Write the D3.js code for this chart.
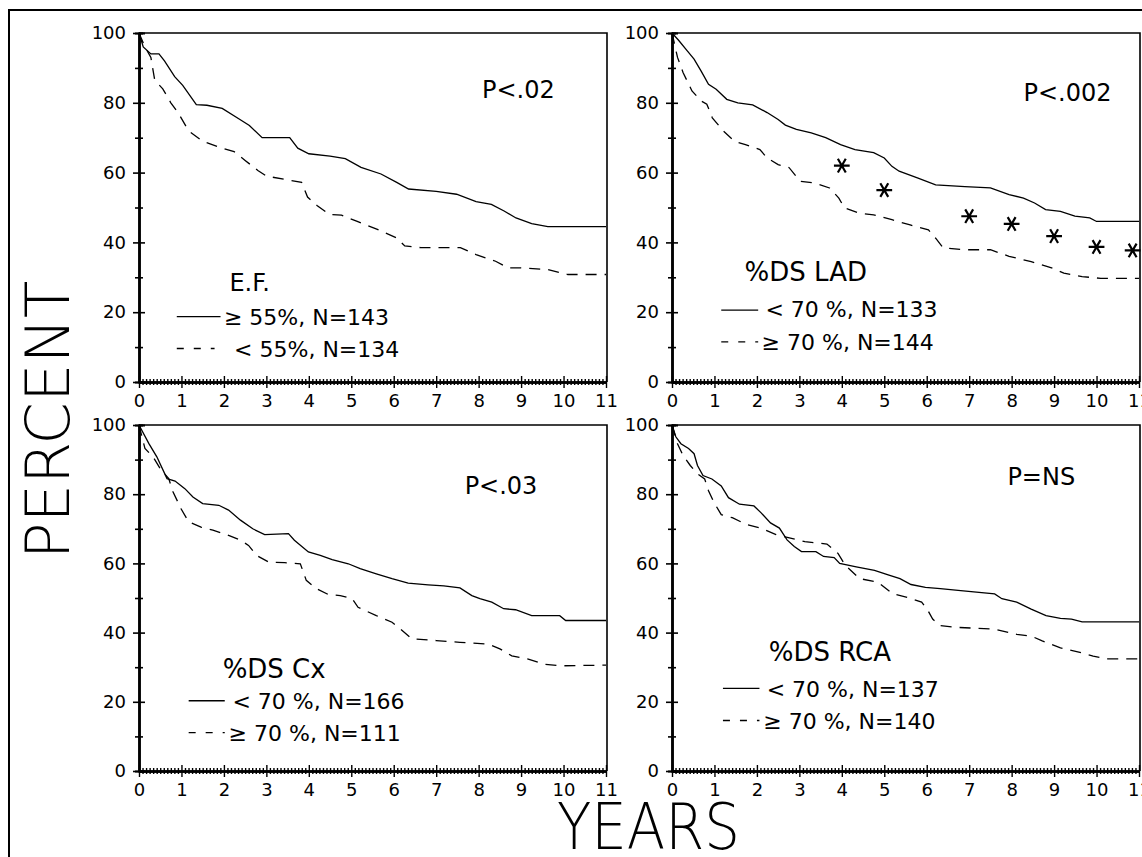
<!DOCTYPE html>
<html>
<head>
<meta charset="utf-8">
<script src="https://cdn.jsdelivr.net/npm/d3@7"></script>
<style>
body{margin:0;background:#fff;}
text{font-family:"DejaVu Sans",sans-serif;fill:#000;}
.axis text{font-size:18px;}
.axis line,.axis path{stroke:#000;}
</style>
</head>
<body>
<div id="chart"></div>
<script>
// survival curves: [years, percent]
var ef_high=[[0,100],[0.1,96],[0.28,94],[0.47,94],[0.6,92],[0.84,87.5],[1.03,85],[1.35,79.5],[1.6,79.3],[1.96,78.4],[2.34,75.5],[2.6,73.5],[2.9,70],[3.18,70],[3.55,70],[3.74,67],[4.0,65.4],[4.5,64.7],[4.86,64],[5.23,61.5],[5.7,59.6],[6.07,57.2],[6.35,55.3],[7.0,54.6],[7.48,53.8],[7.94,51.7],[8.3,50.9],[8.6,49],[8.88,47],[9.25,45.4],[9.63,44.5],[11,44.5]];
var ef_low=[[0,100],[0.14,96],[0.28,93],[0.37,86.5],[0.56,84],[0.75,80],[0.93,77],[1.12,73],[1.21,71.6],[1.5,69],[1.96,67],[2.24,66],[2.5,63.5],[2.8,60.6],[3.0,59],[3.46,58],[3.83,57.2],[3.97,53],[4.2,50.5],[4.49,48],[4.77,47.8],[5.14,46],[5.6,43.8],[6.07,41.3],[6.26,39],[6.64,38.5],[7.57,38.5],[7.94,36.5],[8.4,34.6],[8.69,32.7],[8.97,32.7],[9.63,32.2],[10.1,30.8],[11,30.8]];

var lad_low=[[0,100],[0.15,98],[0.35,95],[0.52,92.5],[0.69,89],[0.86,85.3],[1.04,83.9],[1.29,81],[1.55,80],[1.9,79.4],[2.24,77.2],[2.5,75.2],[2.67,73.6],[2.93,72.4],[3.28,71.4],[3.62,70],[3.97,68],[4.31,66.6],[4.75,65.7],[5.0,64.2],[5.18,61.8],[5.35,60.4],[5.78,58.5],[6.21,56.5],[6.9,56],[7.5,55.6],[7.94,53.7],[8.28,52.7],[8.54,51.3],[8.8,49.4],[9.15,48.9],[9.49,47.5],[9.84,47],[10.0,46],[11,46]];
var lad_high=[[0,100],[0.13,93],[0.26,88.7],[0.47,83.4],[0.69,80.5],[0.82,79.6],[0.95,75.7],[1.21,71.9],[1.47,69],[1.73,68],[2.07,66.6],[2.24,64.2],[2.5,62.3],[2.76,61.4],[3.02,57.5],[3.36,57],[3.71,55.6],[3.93,52.7],[4.06,49.9],[4.4,48.4],[4.75,47.9],[5.18,46.5],[5.61,45],[6.04,43.6],[6.21,41.2],[6.39,38.4],[6.9,37.9],[7.5,37.9],[7.94,36],[8.46,34.5],[8.97,32.6],[9.23,31.2],[9.66,30.2],[10.1,29.7],[11,29.7]];
var lad_stars=[[4,62],[5,55],[7,47.5],[8,45.3],[9,41.8],[10,38.7],[10.85,37.7]];

var cx_low=[[0,100],[0.23,94.7],[0.42,90.8],[0.66,84.5],[0.85,83.8],[1.08,81.6],[1.27,79.2],[1.5,77.3],[1.88,76.8],[2.11,75.4],[2.39,72.5],[2.68,70],[2.96,68.3],[3.52,68.6],[3.66,66.7],[3.99,63.3],[4.27,62.3],[4.55,61.1],[4.93,59.9],[5.21,58.5],[5.59,57],[5.96,55.6],[6.34,54.3],[6.81,53.8],[7.18,53.5],[7.56,52.9],[7.84,50.7],[8.03,49.8],[8.31,48.8],[8.59,46.9],[8.87,46.6],[9.25,44.9],[9.91,44.9],[10.05,43.5],[11,43.5]];
var cx_high=[[0,100],[0.14,93.2],[0.33,90.8],[0.52,87],[0.7,84.5],[0.8,80.7],[0.99,75.8],[1.17,72],[1.46,70.5],[1.74,69.6],[2.11,68.1],[2.39,66.7],[2.58,65.2],[2.77,62.3],[3.05,60.4],[3.43,60.2],[3.8,59.9],[3.94,55.1],[4.18,52.7],[4.46,51],[4.74,50.7],[5.02,49.8],[5.16,47.3],[5.59,44.9],[5.96,43],[6.15,41.1],[6.43,38.2],[7.0,37.7],[7.56,37.2],[8.22,36.7],[8.5,35.3],[8.78,33.3],[9.15,32.4],[9.53,30.9],[9.91,30.4],[11,30.6]];

var rca_low=[[0,100],[0.09,96.6],[0.21,94.6],[0.39,93.2],[0.52,91.7],[0.6,88.3],[0.73,85.4],[0.94,84.4],[1.16,82.4],[1.33,79],[1.59,77.1],[1.93,76.6],[2.1,74.6],[2.32,71.7],[2.53,70.2],[2.71,66.8],[2.88,64.9],[3.05,63.4],[3.39,63.4],[3.57,62],[3.82,61.7],[3.95,60],[4.34,59],[4.77,58],[5.11,56.6],[5.37,55.6],[5.63,53.9],[5.97,53.1],[6.32,52.7],[6.74,52.2],[7.17,51.7],[7.6,51.2],[7.77,49.8],[8.12,48.8],[8.46,46.8],[8.81,44.9],[9.15,44.1],[9.41,43.9],[9.66,43.1],[11,43.1]];
var rca_high=[[0,100],[0.13,94.6],[0.26,91.2],[0.43,88.3],[0.6,85.9],[0.77,84.4],[0.86,81],[0.99,77.6],[1.16,74.1],[1.42,73.2],[1.76,71.2],[2.1,70.2],[2.45,68.3],[2.79,67.3],[3.13,66.3],[3.65,65.6],[3.91,62.9],[4.08,59.5],[4.42,55.6],[4.85,54.6],[5.2,51.2],[5.54,50.2],[5.88,48.8],[6.01,46.8],[6.14,43.9],[6.32,42],[6.74,41.5],[7.6,41],[8.12,39.5],[8.46,39],[8.72,37.6],[9.15,35.6],[9.66,34.1],[9.92,33.2],[10.27,32.4],[11,32.4]];

var yMajor=[0,20,40,60,80,100];
var yMinor=[10,30,50,70,90];
var xMajor=[0,1,2,3,4,5,6,7,8,9,10,11];

var pTexts=["P<.02","P<.002","P<.03","P=NS"];
var titles=["E.F.","%DS LAD","%DS Cx","%DS RCA"];
var solidLabels=["\u2265 55%, N=143","< 70 %, N=133","< 70 %, N=166","< 70 %, N=137"];
var dashLabels=["< 55%, N=134","\u2265 70 %, N=144","\u2265 70 %, N=111","\u2265 70 %, N=140"];
var solidSeries=[ef_high,lad_low,cx_low,rca_low];
var dashSeries=[ef_low,lad_high,cx_high,rca_high];

// panel frames (px) and where the texts sit, in axis units
var frames=[
	{left:139,right:606,top:33,bottom:382},
	{left:672,right:1139,top:33,bottom:382},
	{left:139,right:606,top:425,bottom:771},
	{left:672,right:1139,top:425,bottom:771}
];
var place=[
	{p:[8.08,81.3],title:[2.13,26],tsize:24,l1:[0.89,1.92,18.75],t1:[2.0,16.3],l2:[0.89,1.78,9.6],t2:[2.24,7.2]},
	{p:[8.28,80.5],title:[1.71,28.8],tsize:26,l1:[1.16,2.03,20.6],t1:[2.2,18.7],l2:[1.16,2.03,11.5],t2:[2.11,9.1]},
	{p:[7.67,80.2],title:[1.97,27],tsize:26,l1:[1.17,2.02,20.3],t1:[2.2,17.9],l2:[1.17,2.02,11.1],t2:[2.11,8.7]},
	{p:[7.9,82.7],title:[2.28,31.7],tsize:26,l1:[1.2,2.06,23.9],t1:[2.23,21.5],l2:[1.2,2.06,14.6],t2:[2.15,12.2]}
];

var width=1142, height=857;
var svg=d3.select("#chart").append("svg")
	.attr("width",width)
	.attr("height",height);

// outer frame (left and top edges only are visible)
svg.append("path")
	.attr("d","M9,"+height+"V10H"+width)
	.attr("fill","none").attr("stroke","#000").attr("stroke-width",2);

for(var k=0;k<4;k++){ drawpanel(k); }

svg.append("text")
	.attr("transform","translate(69,420) rotate(-90)")
	.attr("text-anchor","middle")
	.style("font-size","61px").style("font-weight","200")
	.text("PERCENT");
svg.append("text")
	.attr("x",557).attr("y",849)
	.attr("textLength",183).attr("lengthAdjust","spacingAndGlyphs")
	.style("font-size","64px").style("font-weight","200")
	.text("YEARS");

function drawpanel(k){
	var f=frames[k], pl=place[k];
	var x=d3.scaleLinear().domain([0,11]).range([f.left,f.right]);
	var y=d3.scaleLinear().domain([0,100]).range([f.bottom,f.top]);
	var g=svg.append("g");

	// top and right border of the box
	g.append("path")
		.attr("d","M"+x(0)+","+y(100)+"H"+(x(11)+1)+"V"+y(0))
		.attr("fill","none").attr("stroke","#000").attr("stroke-width",1.6);

	// y axis, ticks cross the line
	var ya=g.append("g").attr("class","axis").attr("transform","translate("+x(0)+",0)");
	ya.append("g").call(d3.axisLeft(y).tickValues(yMajor).tickSize(6).tickPadding(6).tickSizeOuter(0));
	ya.append("g").call(d3.axisRight(y).tickValues(yMajor.slice(0,5)).tickSize(6).tickFormat(""));
	ya.append("g").call(d3.axisLeft(y).tickValues(yMinor).tickSize(4).tickFormat(""));
	ya.append("g").call(d3.axisRight(y).tickValues(yMinor).tickSize(4).tickFormat(""));
	ya.selectAll("path.domain").attr("stroke-width",2);
	ya.selectAll("line").attr("stroke-width",1.6);

	// x axis: whole years plus a dense monthly hatch
	var months=d3.range(1,132).filter(function(m){return m%12!=0;}).map(function(m){return m/12;});
	var xa=g.append("g").attr("class","axis").attr("transform","translate(0,"+y(0)+")");
	xa.append("g").call(d3.axisBottom(x).tickValues(xMajor).tickSize(6).tickPadding(6).tickSizeOuter(0));
	xa.append("g").call(d3.axisTop(x).tickValues(xMajor).tickSize(6).tickFormat("").tickSizeOuter(0));
	xa.append("g").call(d3.axisBottom(x).tickValues(months).tickSize(3).tickFormat("").tickSizeOuter(0));
	xa.append("g").call(d3.axisTop(x).tickValues(months).tickSize(3).tickFormat("").tickSizeOuter(0));
	xa.selectAll("path.domain").attr("stroke-width",2);
	xa.selectAll("line").attr("stroke-width",1.4);
	ya.selectAll("text").attr("dx","-1");

	var line=d3.line()
		.x(function(d){return x(d[0]);})
		.y(function(d){return y(d[1]);});
	g.append("path").datum(solidSeries[k])
		.attr("d",line)
		.attr("fill","none").attr("stroke","#000").attr("stroke-width",1.3);
	g.append("path").datum(dashSeries[k])
		.attr("d",line)
		.attr("fill","none").attr("stroke","#000").attr("stroke-width",1.3)
		.attr("stroke-dasharray","11,8");

	if(k==1){
		var star=d3.symbol().type(d3.symbolAsterisk).size(175);
		g.selectAll(".star").data(lad_stars).enter().append("path")
			.attr("class","star")
			.attr("d",star)
			.attr("transform",function(d){return "translate("+x(d[0])+","+y(d[1])+") rotate(90)";})
			.attr("fill","none").attr("stroke","#000").attr("stroke-width",2.2);
	}

	g.append("text").attr("x",x(pl.p[0])).attr("y",y(pl.p[1]))
		.style("font-size","24px").text(pTexts[k]);
	g.append("text").attr("x",x(pl.title[0])).attr("y",y(pl.title[1]))
		.style("font-size",pl.tsize+"px").text(titles[k]);

	g.append("line")
		.attr("x1",x(pl.l1[0])).attr("x2",x(pl.l1[1]))
		.attr("y1",y(pl.l1[2])).attr("y2",y(pl.l1[2]))
		.attr("stroke","#000").attr("stroke-width",1.3);
	g.append("text").attr("x",x(pl.t1[0])).attr("y",y(pl.t1[1]))
		.style("font-size","22px").text(solidLabels[k]);
	g.append("line")
		.attr("x1",x(pl.l2[0])).attr("x2",x(pl.l2[1]))
		.attr("y1",y(pl.l2[2])).attr("y2",y(pl.l2[2]))
		.attr("stroke","#000").attr("stroke-width",1.3)
		.attr("stroke-dasharray","7,10");
	g.append("text").attr("x",x(pl.t2[0])).attr("y",y(pl.t2[1]))
		.style("font-size","22px").text(dashLabels[k]);
}
</script>
</body>
</html>
